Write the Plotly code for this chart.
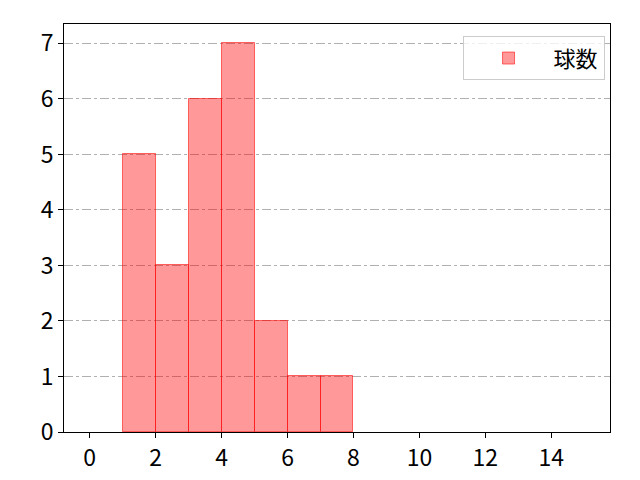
import plotly.graph_objects as go

# histogram bins (left edges) and counts
bin_lefts = [1, 2, 3, 4, 5, 6, 7]
counts = [5, 3, 6, 7, 2, 1, 1]
series_name = "球数"

x_ticks = [0, 2, 4, 6, 8, 10, 12, 14]
y_ticks = [0, 1, 2, 3, 4, 5, 6, 7]

fig = go.Figure()

fig.add_trace(
    go.Bar(
        x=bin_lefts,
        y=counts,
        width=1,
        offset=0,
        name=series_name,
        marker=dict(
            color="rgba(255,0,0,0.4)",
            line=dict(color="rgba(255,0,0,0.55)", width=1),
        ),
        showlegend=True,
    )
)

font_family = "Noto Sans CJK JP, DejaVu Sans, sans-serif"

# the page body has an 8px margin, so plot margins are shifted by that
fig.update_layout(
    width=640,
    height=480,
    paper_bgcolor="white",
    plot_bgcolor="white",
    margin=dict(l=56, r=38, t=16, b=56),
    font=dict(family=font_family, size=23, color="black"),
    bargap=0,
    legend=dict(
        x=0.99, y=0.97, xanchor="right", yanchor="top",
        bgcolor="rgba(255,255,255,0.8)",
        bordercolor="#cccccc", borderwidth=1,
        font=dict(size=22),
        itemwidth=80,
    ),
)

fig.update_xaxes(
    range=[-0.78, 15.78],
    tickvals=x_ticks,
    ticks="outside", ticklen=5, tickcolor="black",
    showgrid=False, zeroline=False,
    showline=True, linecolor="black", linewidth=1, mirror=True,
    tickfont=dict(size=23),
)
fig.update_yaxes(
    range=[0, 7.35],
    tickvals=y_ticks,
    ticks="outside", ticklen=5, tickcolor="black",
    showgrid=True, gridcolor="#b0b0b0", griddash="dashdot", gridwidth=1,
    zeroline=False,
    showline=True, linecolor="black", linewidth=1, mirror=True,
    tickfont=dict(size=23),
)

fig.write_html("out.html")
